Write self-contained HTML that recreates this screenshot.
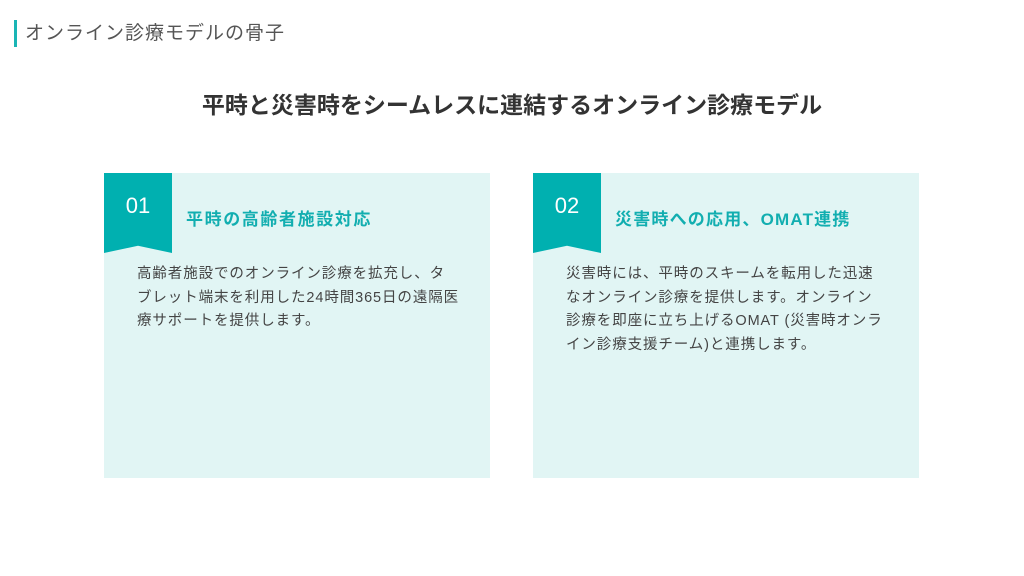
<!DOCTYPE html>
<html><head><meta charset="utf-8"><style>
body{margin:0;width:1024px;height:576px;background:#fff;position:relative;overflow:hidden;font-family:"Liberation Sans","Noto Sans CJK JP",sans-serif}
.hdr{position:absolute;left:14px;top:20px;height:27px;border-left:3px solid #1ab5b5;padding-left:8px;font-size:19px;line-height:27px;color:#555;letter-spacing:1px}
.title{position:absolute;left:0;width:1024px;top:90px;text-align:center;font-size:23px;font-weight:bold;color:#333;line-height:30px}
.card{position:absolute;top:173px;width:386px;height:305px;background:#e1f5f4}
.ban{position:absolute;left:0;top:0;width:68px;height:80px;background:#00b0b0;clip-path:polygon(0 0,100% 0,100% 100%,50% 91%,0 100%);color:#fff;font-size:22px;text-align:center;line-height:66px}
.h{position:absolute;left:82px;top:32px;font-size:17px;font-weight:bold;color:#12aeb0}
.t{position:absolute;left:33px;top:90px;width:350px;font-size:14.5px;line-height:23.5px;color:#444;white-space:nowrap;letter-spacing:0.9px}
</style></head><body>
<div class="hdr">オンライン診療モデルの骨子</div>
<div class="title">平時と災害時をシームレスに連結するオンライン診療モデル</div>
<div class="card" style="left:104px"><div class="ban">01</div><div class="h" style="letter-spacing:1.6px">平時の高齢者施設対応</div><div class="t">高齢者施設でのオンライン診療を拡充し、タ<br>ブレット端末を利用した24時間365日の遠隔医<br>療サポートを提供します。</div></div>
<div class="card" style="left:533px"><div class="ban">02</div><div class="h" style="letter-spacing:1.2px">災害時への応用、OMAT連携</div><div class="t">災害時には、平時のスキームを転用した迅速<br>なオンライン診療を提供します。オンライン<br>診療を即座に立ち上げるOMAT (災害時オンラ<br>イン診療支援チーム)と連携します。</div></div>
</body></html>
